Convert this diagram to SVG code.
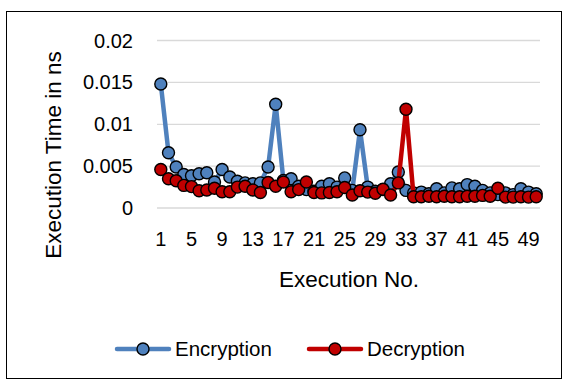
<svg xmlns="http://www.w3.org/2000/svg" width="567" height="381" viewBox="0 0 567 381">
<style>
text{font-family:"Liberation Sans",Arial,sans-serif;fill:#000}
.tick{font-size:20px}
.ytick{font-size:20px;text-anchor:end}
.xtick{font-size:20px;text-anchor:middle}
.title{font-size:22.5px;text-anchor:middle}
.leg{font-size:20.5px}
.grid{stroke:#d9d9d9;stroke-width:1.3}
.lb{fill:none;stroke:#4f81bd;stroke-width:4.5;stroke-linejoin:round;stroke-linecap:round}
.lr{fill:none;stroke:#c00000;stroke-width:4.5;stroke-linejoin:round;stroke-linecap:round}
.mb circle,.mb2{fill:#4f81bd;stroke:#000;stroke-width:1.4}
.mr circle,.mr2{fill:#c00000;stroke:#000;stroke-width:1.4}
</style>
<rect x="6.5" y="11.5" width="555" height="367" fill="#fff" stroke="#000" stroke-width="1"/>
<g id="gridlines">
<line class="grid" x1="157" y1="40.5" x2="540" y2="40.5"/>
<line class="grid" x1="157" y1="82.4" x2="540" y2="82.4"/>
<line class="grid" x1="157" y1="124.3" x2="540" y2="124.3"/>
<line class="grid" x1="157" y1="166.1" x2="540" y2="166.1"/>
<line class="grid" x1="157" y1="208" x2="540" y2="208"/>
</g>
<g id="y-axis">
<text class="ytick" x="133" y="47.5">0.02</text>
<text class="ytick" x="133" y="89.4">0.015</text>
<text class="ytick" x="133" y="131.3">0.01</text>
<text class="ytick" x="133" y="173.1">0.005</text>
<text class="ytick" x="133" y="215">0</text>
<text class="title" transform="translate(61,155) rotate(-90)">Execution Time in ns</text>
</g>
<g id="x-axis">
<text class="xtick" x="160.8" y="245.5">1</text>
<text class="xtick" x="191.5" y="245.5">5</text>
<text class="xtick" x="222.1" y="245.5">9</text>
<text class="xtick" x="252.8" y="245.5">13</text>
<text class="xtick" x="283.4" y="245.5">17</text>
<text class="xtick" x="314" y="245.5">21</text>
<text class="xtick" x="344.7" y="245.5">25</text>
<text class="xtick" x="375.3" y="245.5">29</text>
<text class="xtick" x="406" y="245.5">33</text>
<text class="xtick" x="436.6" y="245.5">37</text>
<text class="xtick" x="467.2" y="245.5">41</text>
<text class="xtick" x="497.9" y="245.5">45</text>
<text class="xtick" x="528.5" y="245.5">49</text>
<text class="title" x="349" y="287">Execution No.</text>
</g>
<g id="series-encryption">
<polyline class="lb" points="160.8,84.05 168.5,152.7 176.2,167 183.8,174.5 191.5,175.8 199.1,173.7 206.8,172.8 214.5,182 222.1,169.5 229.8,177 237.4,181.2 245.1,182.9 252.8,183.7 260.4,182.9 268.1,167 275.7,104.2 283.4,180.4 291.1,178.7 298.7,186.2 306.4,189.6 314,191.3 321.7,186.2 329.4,183.7 337,187.1 344.7,177.9 352.3,190.4 360,129.7 367.7,187.1 375.3,191.3 383,189.6 390.6,183.7 398.3,172 406,190.4 413.6,192.9 421.3,192.1 428.9,193.8 436.6,188.7 444.3,192.9 451.9,187.9 459.6,188.7 467.2,184.6 474.9,186.2 482.6,190.4 490.2,192.9 497.9,194.6 505.5,192.9 513.2,194.6 520.9,188.7 528.5,192.1 536.2,193.8"/>
<g class="mb">
<circle cx="160.8" cy="84.05" r="6"/><circle cx="168.5" cy="152.7" r="6"/><circle cx="176.2" cy="167" r="6"/><circle cx="183.8" cy="174.5" r="6"/><circle cx="191.5" cy="175.8" r="6"/><circle cx="199.1" cy="173.7" r="6"/><circle cx="206.8" cy="172.8" r="6"/><circle cx="214.5" cy="182" r="6"/><circle cx="222.1" cy="169.5" r="6"/><circle cx="229.8" cy="177" r="6"/><circle cx="237.4" cy="181.2" r="6"/><circle cx="245.1" cy="182.9" r="6"/><circle cx="252.8" cy="183.7" r="6"/><circle cx="260.4" cy="182.9" r="6"/><circle cx="268.1" cy="167" r="6"/><circle cx="275.7" cy="104.2" r="6"/><circle cx="283.4" cy="180.4" r="6"/><circle cx="291.1" cy="178.7" r="6"/><circle cx="298.7" cy="186.2" r="6"/><circle cx="306.4" cy="189.6" r="6"/><circle cx="314" cy="191.3" r="6"/><circle cx="321.7" cy="186.2" r="6"/><circle cx="329.4" cy="183.7" r="6"/><circle cx="337" cy="187.1" r="6"/><circle cx="344.7" cy="177.9" r="6"/><circle cx="352.3" cy="190.4" r="6"/><circle cx="360" cy="129.7" r="6"/><circle cx="367.7" cy="187.1" r="6"/><circle cx="375.3" cy="191.3" r="6"/><circle cx="383" cy="189.6" r="6"/><circle cx="390.6" cy="183.7" r="6"/><circle cx="398.3" cy="172" r="6"/><circle cx="406" cy="190.4" r="6"/><circle cx="413.6" cy="192.9" r="6"/><circle cx="421.3" cy="192.1" r="6"/><circle cx="428.9" cy="193.8" r="6"/><circle cx="436.6" cy="188.7" r="6"/><circle cx="444.3" cy="192.9" r="6"/><circle cx="451.9" cy="187.9" r="6"/><circle cx="459.6" cy="188.7" r="6"/><circle cx="467.2" cy="184.6" r="6"/><circle cx="474.9" cy="186.2" r="6"/><circle cx="482.6" cy="190.4" r="6"/><circle cx="490.2" cy="192.9" r="6"/><circle cx="497.9" cy="194.6" r="6"/><circle cx="505.5" cy="192.9" r="6"/><circle cx="513.2" cy="194.6" r="6"/><circle cx="520.9" cy="188.7" r="6"/><circle cx="528.5" cy="192.1" r="6"/><circle cx="536.2" cy="193.8" r="6"/>
</g>
</g>
<g id="series-decryption">
<polyline class="lr" points="160.8,169.5 168.5,178.7 176.2,180.8 183.8,185.4 191.5,186.6 199.1,190.8 206.8,190 214.5,188.3 222.1,191.7 229.8,191.7 237.4,187.1 245.1,186.2 252.8,190 260.4,192.5 268.1,182.5 275.7,186.2 283.4,182 291.1,191.7 298.7,189.6 306.4,182 314,192.5 321.7,192.9 329.4,192.5 337,191.7 344.7,187.5 352.3,195 360,190.8 367.7,192.1 375.3,193.3 383,189.2 390.6,195 398.3,182.9 406,109.2 413.6,196.7 421.3,196.7 428.9,196.3 436.6,196.7 444.3,196.3 451.9,196.7 459.6,196.7 467.2,196.3 474.9,196.3 482.6,195.4 490.2,196.3 497.9,188.3 505.5,197.1 513.2,197.1 520.9,196.7 528.5,197.1 536.2,196.7"/>
<g class="mr">
<circle cx="160.8" cy="169.5" r="6"/><circle cx="168.5" cy="178.7" r="6"/><circle cx="176.2" cy="180.8" r="6"/><circle cx="183.8" cy="185.4" r="6"/><circle cx="191.5" cy="186.6" r="6"/><circle cx="199.1" cy="190.8" r="6"/><circle cx="206.8" cy="190" r="6"/><circle cx="214.5" cy="188.3" r="6"/><circle cx="222.1" cy="191.7" r="6"/><circle cx="229.8" cy="191.7" r="6"/><circle cx="237.4" cy="187.1" r="6"/><circle cx="245.1" cy="186.2" r="6"/><circle cx="252.8" cy="190" r="6"/><circle cx="260.4" cy="192.5" r="6"/><circle cx="268.1" cy="182.5" r="6"/><circle cx="275.7" cy="186.2" r="6"/><circle cx="283.4" cy="182" r="6"/><circle cx="291.1" cy="191.7" r="6"/><circle cx="298.7" cy="189.6" r="6"/><circle cx="306.4" cy="182" r="6"/><circle cx="314" cy="192.5" r="6"/><circle cx="321.7" cy="192.9" r="6"/><circle cx="329.4" cy="192.5" r="6"/><circle cx="337" cy="191.7" r="6"/><circle cx="344.7" cy="187.5" r="6"/><circle cx="352.3" cy="195" r="6"/><circle cx="360" cy="190.8" r="6"/><circle cx="367.7" cy="192.1" r="6"/><circle cx="375.3" cy="193.3" r="6"/><circle cx="383" cy="189.2" r="6"/><circle cx="390.6" cy="195" r="6"/><circle cx="398.3" cy="182.9" r="6"/><circle cx="406" cy="109.2" r="6"/><circle cx="413.6" cy="196.7" r="6"/><circle cx="421.3" cy="196.7" r="6"/><circle cx="428.9" cy="196.3" r="6"/><circle cx="436.6" cy="196.7" r="6"/><circle cx="444.3" cy="196.3" r="6"/><circle cx="451.9" cy="196.7" r="6"/><circle cx="459.6" cy="196.7" r="6"/><circle cx="467.2" cy="196.3" r="6"/><circle cx="474.9" cy="196.3" r="6"/><circle cx="482.6" cy="195.4" r="6"/><circle cx="490.2" cy="196.3" r="6"/><circle cx="497.9" cy="188.3" r="6"/><circle cx="505.5" cy="197.1" r="6"/><circle cx="513.2" cy="197.1" r="6"/><circle cx="520.9" cy="196.7" r="6"/><circle cx="528.5" cy="197.1" r="6"/><circle cx="536.2" cy="196.7" r="6"/>
</g>
</g>
<g id="legend">
<g id="legend-encryption">
<line class="lb" x1="117" y1="349" x2="169" y2="349"/>
<circle class="mb2" cx="143" cy="349" r="6"/>
<text class="leg" x="175" y="356">Encryption</text>
</g>
<g id="legend-decryption">
<line class="lr" x1="309" y1="349" x2="361" y2="349"/>
<circle class="mr2" cx="335" cy="349" r="6"/>
<text class="leg" x="367" y="356">Decryption</text>
</g>
</g>
</svg>
